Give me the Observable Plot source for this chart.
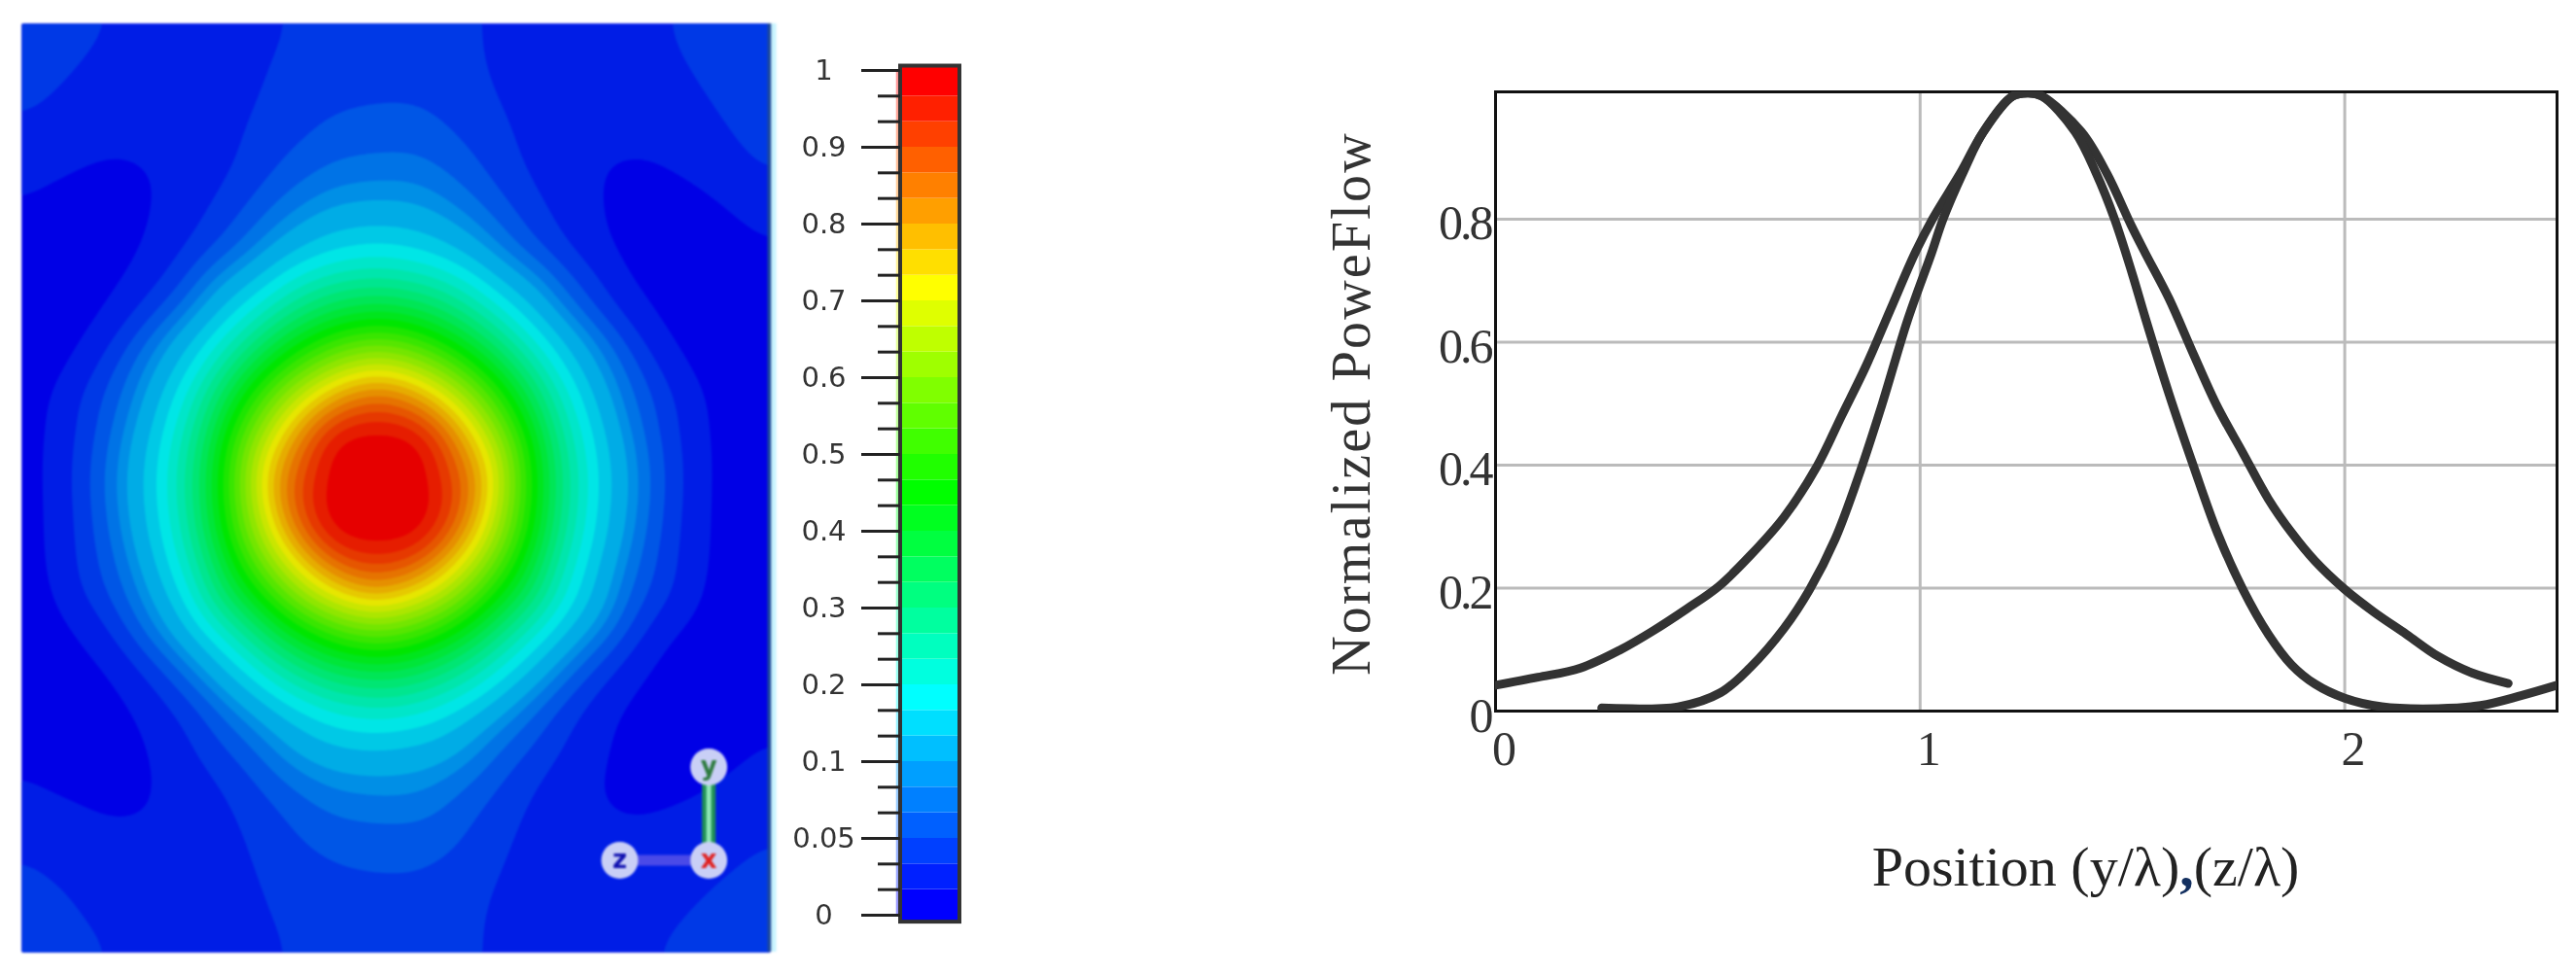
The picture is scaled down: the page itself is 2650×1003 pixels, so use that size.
<!DOCTYPE html>
<html><head><meta charset="utf-8">
<script src="https://cdn.jsdelivr.net/npm/d3@7"></script>
<script src="https://cdn.jsdelivr.net/npm/@observablehq/plot@0.6"></script>
<style>
html,body{margin:0;padding:0;background:#fff;}
#page{position:relative;width:2650px;height:1003px;overflow:hidden;background:#fff;}
#page svg{position:absolute;display:block;background:none;max-width:none;}
</style></head><body><div id="page"></div>
<script>
// ---- line chart values
const wideX=[0,.10,.20,.295,.37,.45,.526,.60,.68,.757,.815,.873,.93,.988,1.029,1.094,1.149,1.218,1.255,1.287,1.38,1.44,1.497,1.53,1.586,1.644,1.70,1.76,1.82,1.875,1.93,2.0,2.067,2.145,2.22,2.30,2.385];
const wideY=[.042,.055,.07,.10,.13,.166,.203,.253,.316,.398,.48,.562,.653,.745,.8,.874,.942,1.0,1.005,1.0,.942,.874,.79,.745,.671,.58,.495,.42,.345,.29,.244,.198,.162,.125,.089,.062,.045];
const narrowX=[.25,.43,.53,.60,.68,.74,.80,.854,.91,.97,1.027,1.054,1.10,1.149,1.218,1.255,1.287,1.365,1.415,1.458,1.50,1.53,1.586,1.644,1.70,1.76,1.82,1.875,1.93,2.0,2.087,2.22,2.32,2.415,2.5];
const narrowY=[.005,.007,.03,.071,.135,.198,.28,.38,.498,.635,.745,.8,.874,.942,1.0,1.005,1.0,.942,.874,.8,.71,.64,.516,.398,.29,.198,.125,.075,.044,.021,.007,.004,.009,.025,.042];
const xTicks=[0,1,2];
const yTicks=[0,.2,.4,.6,.8];
const xGrid=[1,2];
const yGrid=[.2,.4,.6,.8];

// ---- colour bar
const barLabels=["0","0.05","0.1","0.2","0.3","0.4","0.5","0.6","0.7","0.8","0.9","1"];
const barValues=[0,.05,.1,.2,.3,.4,.5,.6,.7,.8,.9,1];
const bandsPerTick=3;

// ---- power-flow field, columns -8..9, rows -10..10 around the spot
const fieldCols=[-8,-7,-6,-5,-4,-3,-2,-1,0,1,2,3,4,5,6,7,8,9];
const fieldRowIds=[-10,-9,-8,-7,-6,-5,-4,-3,-2,-1,0,1,2,3,4,5,6,7,8,9,10];
const fieldRows=[
[.049,.049,.036,.026,.02,.022,.034,.038,.04,.04,.036,.026,.02,.02,.03,.044,.049,.049],
[.049,.04,.027,.02,.02,.027,.037,.042,.044,.044,.037,.026,.02,.02,.027,.036,.045,.049],
[.04,.027,.02,.02,.02,.03,.041,.05,.052,.052,.043,.03,.02,.02,.02,.03,.04,.045],
[.022,.02,.0165,.0165,.021,.033,.05,.066,.07,.07,.052,.034,.021,.0165,.0165,.022,.034,.04],
[.018,.012,.01,.014,.026,.045,.075,.1,.105,.1,.075,.046,.026,.014,.01,.012,.02,.03],
[.012,.008,.008,.017,.036,.07,.12,.17,.19,.17,.12,.07,.036,.016,.008,.008,.012,.018],
[.008,.008,.012,.03,.07,.14,.25,.33,.36,.33,.25,.14,.07,.03,.012,.008,.008,.01],
[.007,.009,.022,.07,.135,.27,.42,.54,.6,.54,.42,.27,.135,.07,.022,.009,.007,.008],
[.008,.014,.045,.09,.21,.42,.62,.78,.87,.78,.62,.42,.21,.09,.045,.014,.008,.008],
[.008,.015,.05,.115,.26,.53,.78,1,1,1,.78,.53,.26,.115,.05,.015,.008,.008],
[.008,.015,.055,.125,.28,.56,.87,1,1,1,.87,.56,.28,.125,.055,.015,.008,.008],
[.008,.015,.05,.115,.26,.53,.78,1,1,1,.78,.53,.26,.115,.05,.015,.008,.008],
[.008,.014,.045,.09,.21,.42,.62,.78,.87,.78,.62,.42,.21,.09,.045,.014,.008,.008],
[.007,.009,.022,.07,.135,.27,.42,.54,.6,.54,.42,.27,.135,.07,.022,.009,.007,.008],
[.008,.008,.012,.03,.07,.14,.25,.33,.36,.33,.25,.14,.07,.03,.012,.008,.008,.012],
[.012,.008,.008,.017,.036,.07,.12,.17,.19,.17,.12,.07,.036,.016,.008,.008,.012,.018],
[.018,.012,.01,.014,.026,.045,.075,.1,.105,.1,.075,.046,.026,.014,.01,.012,.018,.024],
[.022,.02,.0165,.0165,.021,.033,.05,.066,.07,.07,.052,.034,.021,.0165,.017,.02,.026,.032],
[.04,.027,.02,.02,.02,.03,.041,.05,.052,.052,.043,.03,.02,.02,.02,.025,.034,.04],
[.049,.04,.027,.02,.02,.027,.037,.042,.044,.044,.037,.026,.02,.02,.024,.036,.045,.049],
[.049,.049,.036,.026,.02,.022,.034,.038,.04,.04,.036,.026,.02,.022,.034,.046,.049,.049]
];
const fieldEdge=8.42;
// orientation triad, in the same field units
const triadNames=["y","x","z"];
const triadCols=[7.1,7.1,5.19];
const triadRows=[6.01,8.02,8.02];
const triadInk=["#2c7a3e","#e02020","#1010b0"];

const page=document.getElementById("page");
function place(svg,left,top){svg.style.left=left+"px";svg.style.top=top+"px";page.appendChild(svg);}

// ---- shared colours
const nBands=(barValues.length-1)*bandsPerTick;
const bands=d3.range(nBands);
const hue=i=>240-7.5*i;
const barPalette=bands.map(i=>`hsl(${hue(i)},100%,50%)`);
const heatPalette=bands.map(i=>`hsl(${hue(i)},100%,45%)`);
const thresholds=bands.map(i=>{
  const k=Math.floor(i/bandsPerTick),f=(i%bandsPerTick)/bandsPerTick;
  return barValues[k]+(barValues[k+1]-barValues[k])*f;
});

// ---- field
const samples=fieldRows.flatMap((row,r)=>row.map((v,c)=>({c:fieldCols[c],r:fieldRowIds[r],v})));
const triad=triadNames.map((name,k)=>({name,c:triadCols[k],r:triadRows[k],ink:triadInk[k]}));
const heat=Plot.plot({
  width:800,height:1003,
  marginLeft:22,marginRight:8,marginTop:24,marginBottom:24,
  x:{domain:[-7.625,fieldEdge],axis:null},
  y:{domain:[10,-10],axis:null},
  color:{type:"threshold",domain:thresholds.slice(1),range:heatPalette},
  style:{background:"none"},
  marks:[
    Plot.frame({fill:heatPalette[0]}),
    Plot.contour(samples,{x:"c",y:"r",fill:"value",value:"v",thresholds,interpolate:"barycentric",pixelSize:2,blur:9,stroke:"none"}),
    Plot.ruleX([fieldEdge],{stroke:"#1f4a9a",strokeWidth:4,dx:-1}),
    Plot.ruleX([fieldEdge],{stroke:"#c8f4ff",strokeWidth:5,dx:3.5}),
    Plot.link([triad[1]],{x1:"c",y1:"r",x2:()=>triad[2].c,y2:"r",stroke:"#4a4ae8",strokeWidth:11}),
    Plot.link([triad[1]],{x1:"c",y1:"r",x2:"c",y2:()=>triad[0].r,stroke:"#1f8f55",strokeWidth:14}),
    Plot.link([triad[1]],{x1:"c",y1:"r",x2:"c",y2:()=>triad[0].r,stroke:"#8fe8b8",strokeWidth:5}),
    Plot.dot(triad,{x:"c",y:"r",r:19,fill:"#c9cff6",stroke:"none"}),
    Plot.text(triad,{x:"c",y:"r",text:"name",fill:"ink",fontSize:26,fontWeight:"bold",fontFamily:"DejaVu Sans"})
  ]
});
heat.style.filter="blur(1.2px)";
place(heat,0,0);

// ---- colour bar, positions are band counts along the bar
const bar=Plot.plot({
  width:200,height:930,
  marginLeft:126,marginRight:13,marginTop:32,marginBottom:29,
  x:{domain:[0,1],axis:null},
  y:{domain:[0,nBands],axis:null},
  color:{type:"ordinal",domain:bands,range:barPalette},
  style:{background:"none"},
  marks:[
    Plot.rect(bands,{x1:()=>-.07,x2:()=>0,y1:d=>d,y2:d=>d+1,fill:d=>d,fillOpacity:.4}),
    Plot.rect(bands,{x1:()=>0,x2:()=>1,y1:d=>d===0?-.27:d,y2:d=>d===nBands-1?nBands+.17:d+1,fill:d=>d}),
    Plot.rect([0],{x1:()=>0,x2:()=>1,y1:()=>-.27,y2:()=>nBands+.17,fill:"none",stroke:"#333",strokeWidth:4}),
    Plot.axisY({ticks:bands.filter(i=>i%bandsPerTick),tickSize:23,tickFormat:()=>"",label:null,stroke:"#222",strokeWidth:3}),
    Plot.axisY({ticks:barValues.map((_,i)=>i*bandsPerTick),tickSize:40,tickPadding:39,textAnchor:"middle",label:null,
      tickFormat:i=>barLabels[i/bandsPerTick],stroke:"#222",strokeWidth:3,fontSize:29,
      fontFamily:"DejaVu Sans",fill:"#333"})
  ]
});
bar.style.filter="blur(.6px)";
place(bar,800,40);

// ---- line chart
const wide=wideX.map((x,i)=>({x,y:wideY[i]}));
const narrow=narrowX.map((x,i)=>({x,y:narrowY[i]}));
const serif="Liberation Serif";
const chart=Plot.plot({
  width:1310,height:900,
  marginLeft:198,marginRight:20,marginTop:34,marginBottom:229,
  x:{domain:[0,2.5],axis:null},
  y:{domain:[0,1.007],axis:null},
  style:{background:"none"},
  marks:[
    Plot.ruleX(xGrid,{stroke:"#bbb",strokeWidth:3}),
    Plot.ruleY(yGrid,{stroke:"#bbb",strokeWidth:3}),
    Plot.axisY({ticks:yTicks,tickSize:0,tickPadding:5,dy:5,label:null,tickFormat:d=>d===0?"0":String(d),fontSize:50,fontFamily:serif,fill:"#333"}),
    Plot.axisX({ticks:xTicks,tickSize:0,tickPadding:20,dx:9,label:null,tickFormat:d=>String(d),fontSize:50,fontFamily:serif,fill:"#333"}),
    Plot.frame({stroke:"#111",strokeWidth:3}),
    Plot.line(wide,{x:"x",y:"y",stroke:"#333",strokeWidth:9,curve:"catmull-rom",clip:"frame"}),
    Plot.line(narrow,{x:"x",y:"y",stroke:"#333",strokeWidth:9,curve:"catmull-rom",clip:"frame"}),
    Plot.text(["Position (y/λ),(z/λ)"],{frameAnchor:"bottom",lineAnchor:"middle",dx:61,dy:161,fontSize:58,fontFamily:serif,fill:"#222",className:"xlabel"}),
    Plot.text(["Normalized PoweFlow"],{frameAnchor:"left",textAnchor:"middle",rotate:-90,dx:-147,dy:2,fontSize:56,fontFamily:serif,fill:"#333",className:"ylabel"})
  ]
});
d3.select(chart).selectAll(".ylabel text").style("letter-spacing","2.2px");
d3.select(chart).selectAll('[aria-label="y-axis tick label"] text').style("letter-spacing","-3px");
// the comma of the position label is darker and heavier than the words around it
d3.select(chart).selectAll(".xlabel text").each(function(){
  const t=this.textContent; const k=t.indexOf(",");
  this.textContent="";
  d3.select(this).append("tspan").text(t.slice(0,k));
  d3.select(this).append("tspan").attr("font-weight","bold").attr("fill","#143060").text(",");
  d3.select(this).append("tspan").text(t.slice(k+1));
});
chart.style.filter="blur(.5px)";
place(chart,1340,60);
</script></body></html>
